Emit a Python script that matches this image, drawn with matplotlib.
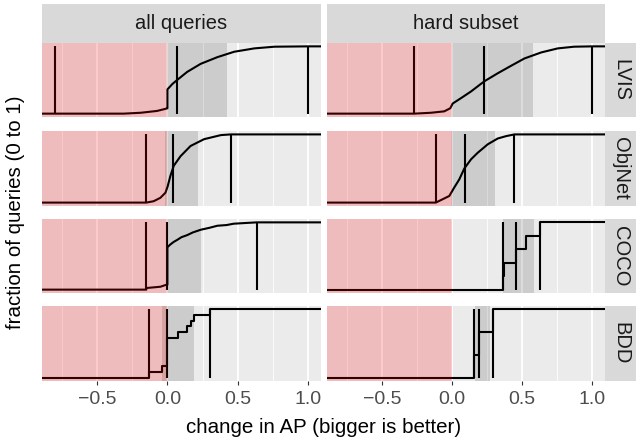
import numpy as np
import matplotlib
matplotlib.use("Agg")
import matplotlib.pyplot as plt

plt.rcParams['font.family'] = ['Liberation Sans', 'DejaVu Sans']

datasets = ["LVIS", "ObjNet", "COCO", "BDD"]
subsets = ["all queries", "hard subset"]
x_ticks = [-0.5, 0.0, 0.5, 1.0]
x_tick_labels = ["\u22120.5", "0.0", "0.5", "1.0"]
x_range = [-0.8, 1.0]

# ---- ECDF curves (change in AP, cumulative fraction)
lvis_all_x = [-0.80, -0.31, -0.19, -0.074, -0.007, 0.0, 0.0, 0.035, 0.069, 0.14, 0.236, 0.355, 0.474, 0.617, 0.76, 1.0]
lvis_all_y = [0.0, 0.0, 0.013, 0.04, 0.075, 0.08, 0.36, 0.44, 0.50, 0.62, 0.74, 0.84, 0.92, 0.97, 0.995, 1.0]

lvis_hard_x = [-0.269, -0.15, -0.055, -0.012, 0.005, 0.064, 0.136, 0.23, 0.326, 0.42, 0.516, 0.636, 0.754, 0.87, 1.0]
lvis_hard_y = [0.0, 0.013, 0.034, 0.08, 0.15, 0.23, 0.33, 0.48, 0.60, 0.71, 0.82, 0.91, 0.97, 0.995, 1.0]

objnet_all_x = [-0.15, -0.098, -0.05, -0.014, 0.002, 0.021, 0.045, 0.093, 0.164, 0.26, 0.38, 0.45]
objnet_all_y = [0.0, 0.02, 0.07, 0.145, 0.24, 0.39, 0.54, 0.68, 0.83, 0.93, 0.99, 1.0]

objnet_hard_x = [-0.115, -0.019, 0.016, 0.052, 0.088, 0.136, 0.183, 0.255, 0.326, 0.386, 0.445]
objnet_hard_y = [0.0, 0.097, 0.22, 0.34, 0.50, 0.635, 0.73, 0.855, 0.94, 0.975, 1.0]

coco_all_x = [-0.15, -0.15, -0.05, -0.007, 0.0, 0.0, 0.02, 0.045, 0.07, 0.10, 0.14, 0.18, 0.236, 0.30, 0.355, 0.42, 0.47, 0.55, 0.635]
coco_all_y = [0.0, 0.024, 0.043, 0.073, 0.073, 0.63, 0.67, 0.71, 0.74, 0.78, 0.81, 0.85, 0.89, 0.92, 0.95, 0.96, 0.98, 0.99, 1.0]

# ---- small panels: individual query values (step ECDF)
coco_hard_vals = [0.362, 0.374, 0.455, 0.524, 0.630]
bdd_all_vals = [-0.13, -0.04, 0.0, 0.0, 0.0, 0.0, 0.0, 0.074, 0.14, 0.165, 0.19, 0.30]
bdd_hard_vals = [0.16, 0.19, 0.295]

# summary lines (min, median, max) and 10-90% band for curve panels
lvis_all_stats = [-0.80, 0.069, 1.0, 0.0, 0.426]
lvis_hard_stats = [-0.269, 0.226, 1.0, 0.0, 0.576]
objnet_all_stats = [-0.15, 0.041, 0.45, -0.02, 0.216]
objnet_hard_stats = [-0.115, 0.093, 0.445, -0.01, 0.307]
coco_all_stats = [-0.15, 0.0, 0.635, 0.0, 0.236]

panels = {
    (0, 0): ("curve", lvis_all_x, lvis_all_y, lvis_all_stats),
    (0, 1): ("curve", lvis_hard_x, lvis_hard_y, lvis_hard_stats),
    (1, 0): ("curve", objnet_all_x, objnet_all_y, objnet_all_stats),
    (1, 1): ("curve", objnet_hard_x, objnet_hard_y, objnet_hard_stats),
    (2, 0): ("curve", coco_all_x, coco_all_y, coco_all_stats),
    (2, 1): ("values", coco_hard_vals),
    (3, 0): ("values", bdd_all_vals),
    (3, 1): ("values", bdd_hard_vals),
}

# ---- layout (pixels)
W, H = 636, 440
fig = plt.figure(figsize=(W / 100, H / 100), dpi=100)
fig.patch.set_facecolor("white")

col_x = [(42, 321), (327, 605)]
row_y = [(43, 117), (131, 206), (219, 293), (306, 381)]
strip_top = (4, 43)
strip_right = (605, 636)


def rect(x0, x1, y0, y1):
    return [x0 / W, 1 - y1 / H, (x1 - x0) / W, (y1 - y0) / H]


span = x_range[1] - x_range[0]
xlim = (x_range[0] - 0.05 * span, x_range[1] + 0.05 * span)
ylim = (-0.05, 1.05)

GRAY_BG = "#EBEBEB"
LW = 1.5
minor_ticks = [-0.75, -0.25, 0.25, 0.75]

for r in range(4):
    for c in range(2):
        x0, x1 = col_x[c]
        y0, y1 = row_y[r]
        ax = fig.add_axes(rect(x0, x1, y0, y1))
        ax.set_facecolor(GRAY_BG)
        for s in ax.spines.values():
            s.set_visible(False)
        ax.set_xlim(*xlim)
        ax.set_ylim(*ylim)
        ax.set_yticks([])
        for xv in x_ticks:
            ax.axvline(xv, color="white", lw=1.3, zorder=0.5)
        for xv in minor_ticks:
            ax.axvline(xv, color="white", lw=0.6, zorder=0.5)

        spec = panels[(r, c)]
        if spec[0] == "curve":
            _, cx, cy, st = spec
            mn, md, mx, lo, hi = st
            px = [xlim[0]] + list(cx) + [xlim[1]]
            py = [0.0] + list(cy) + [1.0]
            ax.plot(px, py, color="black", lw=LW, zorder=3,
                    solid_joinstyle="round", solid_capstyle="butt")
        else:
            vals = np.sort(np.array(spec[1], dtype=float))
            n = len(vals)
            ey = np.arange(1, n + 1) / n
            px = np.concatenate([[xlim[0]], vals, [xlim[1]]])
            py = np.concatenate([[0.0], ey, [1.0]])
            ax.step(px, py, where="post", color="black", lw=LW, zorder=3)
            mn, md, mx = vals.min(), np.median(vals), vals.max()
            lo, hi = np.quantile(vals, [0.1, 0.9])

        ax.axvspan(lo, hi, facecolor=(0, 0, 0, 0.13), lw=0, zorder=1)
        ax.vlines([mn, md, mx], 0, 1, color="black", lw=LW, zorder=3)
        ax.axvspan(xlim[0] - 1, 0, facecolor=(1, 0, 0, 0.2), lw=0, zorder=4)

        if r == 3:
            ax.set_xticks(x_ticks, labels=x_tick_labels)
            ax.tick_params(axis="x", which="major", length=3, width=0.8,
                           color="#333333", labelcolor="#4D4D4D",
                           labelsize=14, pad=4)
        else:
            ax.set_xticks([])

        # right strips
        if c == 1:
            sax = fig.add_axes(rect(strip_right[0], strip_right[1], y0, y1))
            sax.set_facecolor("#D9D9D9")
            sax.set_xticks([]); sax.set_yticks([])
            for s in sax.spines.values():
                s.set_visible(False)
            sax.text(0.5, 0.5, datasets[r], rotation=-90, ha="center",
                     va="center", fontsize=14.5, color="#1A1A1A",
                     transform=sax.transAxes)

# top strips
for c in range(2):
    x0, x1 = col_x[c]
    sax = fig.add_axes(rect(x0, x1, strip_top[0], strip_top[1]))
    sax.set_facecolor("#D9D9D9")
    sax.set_xticks([]); sax.set_yticks([])
    for s in sax.spines.values():
        s.set_visible(False)
    sax.text(0.5, 0.5, subsets[c], ha="center", va="center",
             fontsize=14.5, color="#1A1A1A", transform=sax.transAxes)

fig.text((col_x[0][0] + col_x[1][1]) / 2 / W, 1 - 427 / H,
         "change in AP (bigger is better)", ha="center", va="center",
         fontsize=14.8, color="black")
fig.text(16 / W, 1 - ((row_y[0][0] + row_y[3][1]) / 2) / H,
         "fraction of queries (0 to 1)", ha="center", va="center",
         rotation=90, fontsize=14.8, color="black")

fig.savefig("out.png", dpi=100, facecolor="white")
